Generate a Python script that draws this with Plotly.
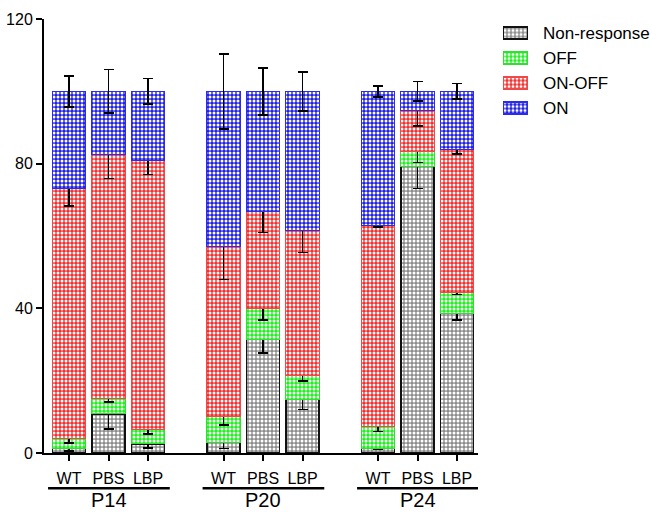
import plotly.graph_objects as go

conditions = ["WT", "PBS", "LBP", "WT", "PBS", "LBP", "WT", "PBS", "LBP"]
groups = ["P14", "P20", "P24"]
positions = [0, 1, 2, 3.91, 4.91, 5.91, 7.82, 8.82, 9.82]

non_response = [1.2, 10.8, 2.5, 3.0, 31.4, 14.9, 1.3, 79.3, 38.6]
off = [2.7, 4.3, 3.9, 7.0, 8.6, 6.5, 6.0, 4.0, 5.8]
on_off = [69.3, 67.3, 74.6, 47.0, 26.7, 40.0, 55.5, 11.5, 39.4]
on = [26.8, 17.6, 19.0, 43.0, 33.3, 38.6, 37.2, 5.2, 16.2]

non_response_err = [0.7, 4.2, 1.1, 1.7, 3.7, 2.9, 0.3, 6.2, 1.8]
off_err = [1.1, 1.0, 1.1, 2.3, 3.2, 1.5, 1.4, 3.0, 0.6]
on_off_err = [4.9, 6.5, 4.0, 9.0, 5.7, 6.0, 0.3, 4.4, 1.2]
on_err = [4.3, 6.0, 3.5, 10.4, 6.5, 5.4, 1.5, 2.7, 2.2]

series = [
    ("Non-response", non_response, non_response_err, "#8c8c8c", "#111111", 1.6),
    ("OFF", off, off_err, "#22ee22", "#33dd33", 1.0),
    ("ON-OFF", on_off, on_off_err, "#f03030", "#f04848", 1.0),
    ("ON", on, on_err, "#2020e0", "#2a2af0", 1.0),
]

W, H = 650, 512
font = "Liberation Sans, Arial, sans-serif"


def px_x(p):
    return p / W


def px_y(p):
    return (H - p) / H


def pattern(col):
    return dict(shape=".", fgcolor="white", bgcolor=col,
                size=4, solidity=0.45, fillmode="replace")


fig = go.Figure()
for name, vals, errs, col, lcol, lw in series:
    fig.add_trace(go.Bar(
        x=positions, y=vals, name=name, width=0.84, showlegend=False,
        marker=dict(color=col, line=dict(color=lcol, width=lw), pattern=pattern(col)),
        error_y=dict(type="data", array=errs, visible=True,
                     color="black", thickness=1.6, width=5),
    ))

# custom legend: swatches drawn as small bars on a hidden helper axis
legend_slots = [87.5, 62.5, 37.5, 12.5]
for (name, vals, errs, col, lcol, lw), slot in zip(series, legend_slots):
    fig.add_trace(go.Bar(
        x=[1], y=[slot], orientation="h", width=12, showlegend=False,
        xaxis="x2", yaxis="y2", hoverinfo="skip",
        marker=dict(color=col, line=dict(color=lcol, width=lw + 0.4), pattern=pattern(col)),
    ))
    fig.add_annotation(x=px_x(541), y=px_y(120.5 - slot), xref="paper", yref="paper",
                       text=name, showarrow=False, xanchor="left", yanchor="middle",
                       font=dict(size=17, family=font, color="black"))

fig.update_layout(
    barmode="stack",
    width=W, height=H,
    margin=dict(l=0, r=0, t=0, b=0, autoexpand=False),
    plot_bgcolor="white", paper_bgcolor="white",
    font=dict(family=font, size=16, color="black"),
    showlegend=False,
    xaxis=dict(domain=[px_x(44), px_x(478)], range=[-0.633, 10.35],
               tickvals=positions, ticktext=conditions,
               showline=True, linecolor="black", linewidth=2,
               ticks="outside", ticklen=6, tickwidth=1.5, tickcolor="black",
               ticklabelstandoff=4,
               showgrid=False, zeroline=False, tickfont=dict(size=16)),
    yaxis=dict(domain=[px_y(453), px_y(19)], range=[0, 120], tickvals=[0, 40, 80, 120],
               showline=True, linecolor="black", linewidth=2,
               ticks="outside", ticklen=6, tickwidth=2, tickcolor="black",
               showgrid=False, zeroline=False, tickfont=dict(size=16)),
    xaxis2=dict(domain=[px_x(503), px_x(528)], range=[0, 1], visible=False,
                anchor="y2", fixedrange=True),
    yaxis2=dict(domain=[px_y(120.5), px_y(20.5)], range=[0, 100], visible=False,
                anchor="x2", fixedrange=True),
)

for gi, g in enumerate(groups):
    x0 = positions[gi * 3] - 0.53
    x1 = positions[gi * 3 + 2] + 0.55
    fig.add_shape(type="line", xref="x", yref="paper", x0=x0, x1=x1,
                  y0=px_y(488.3), y1=px_y(488.3), line=dict(color="black", width=2.5))
    fig.add_annotation(x=positions[gi * 3 + 1], y=px_y(512), xref="x", yref="paper",
                       text=g, showarrow=False, yanchor="bottom", borderpad=0,
                       font=dict(size=20, family=font, color="black"))

fig.write_html("out.html", config={"displayModeBar": False},
               post_script="document.body.style.margin='0';")
